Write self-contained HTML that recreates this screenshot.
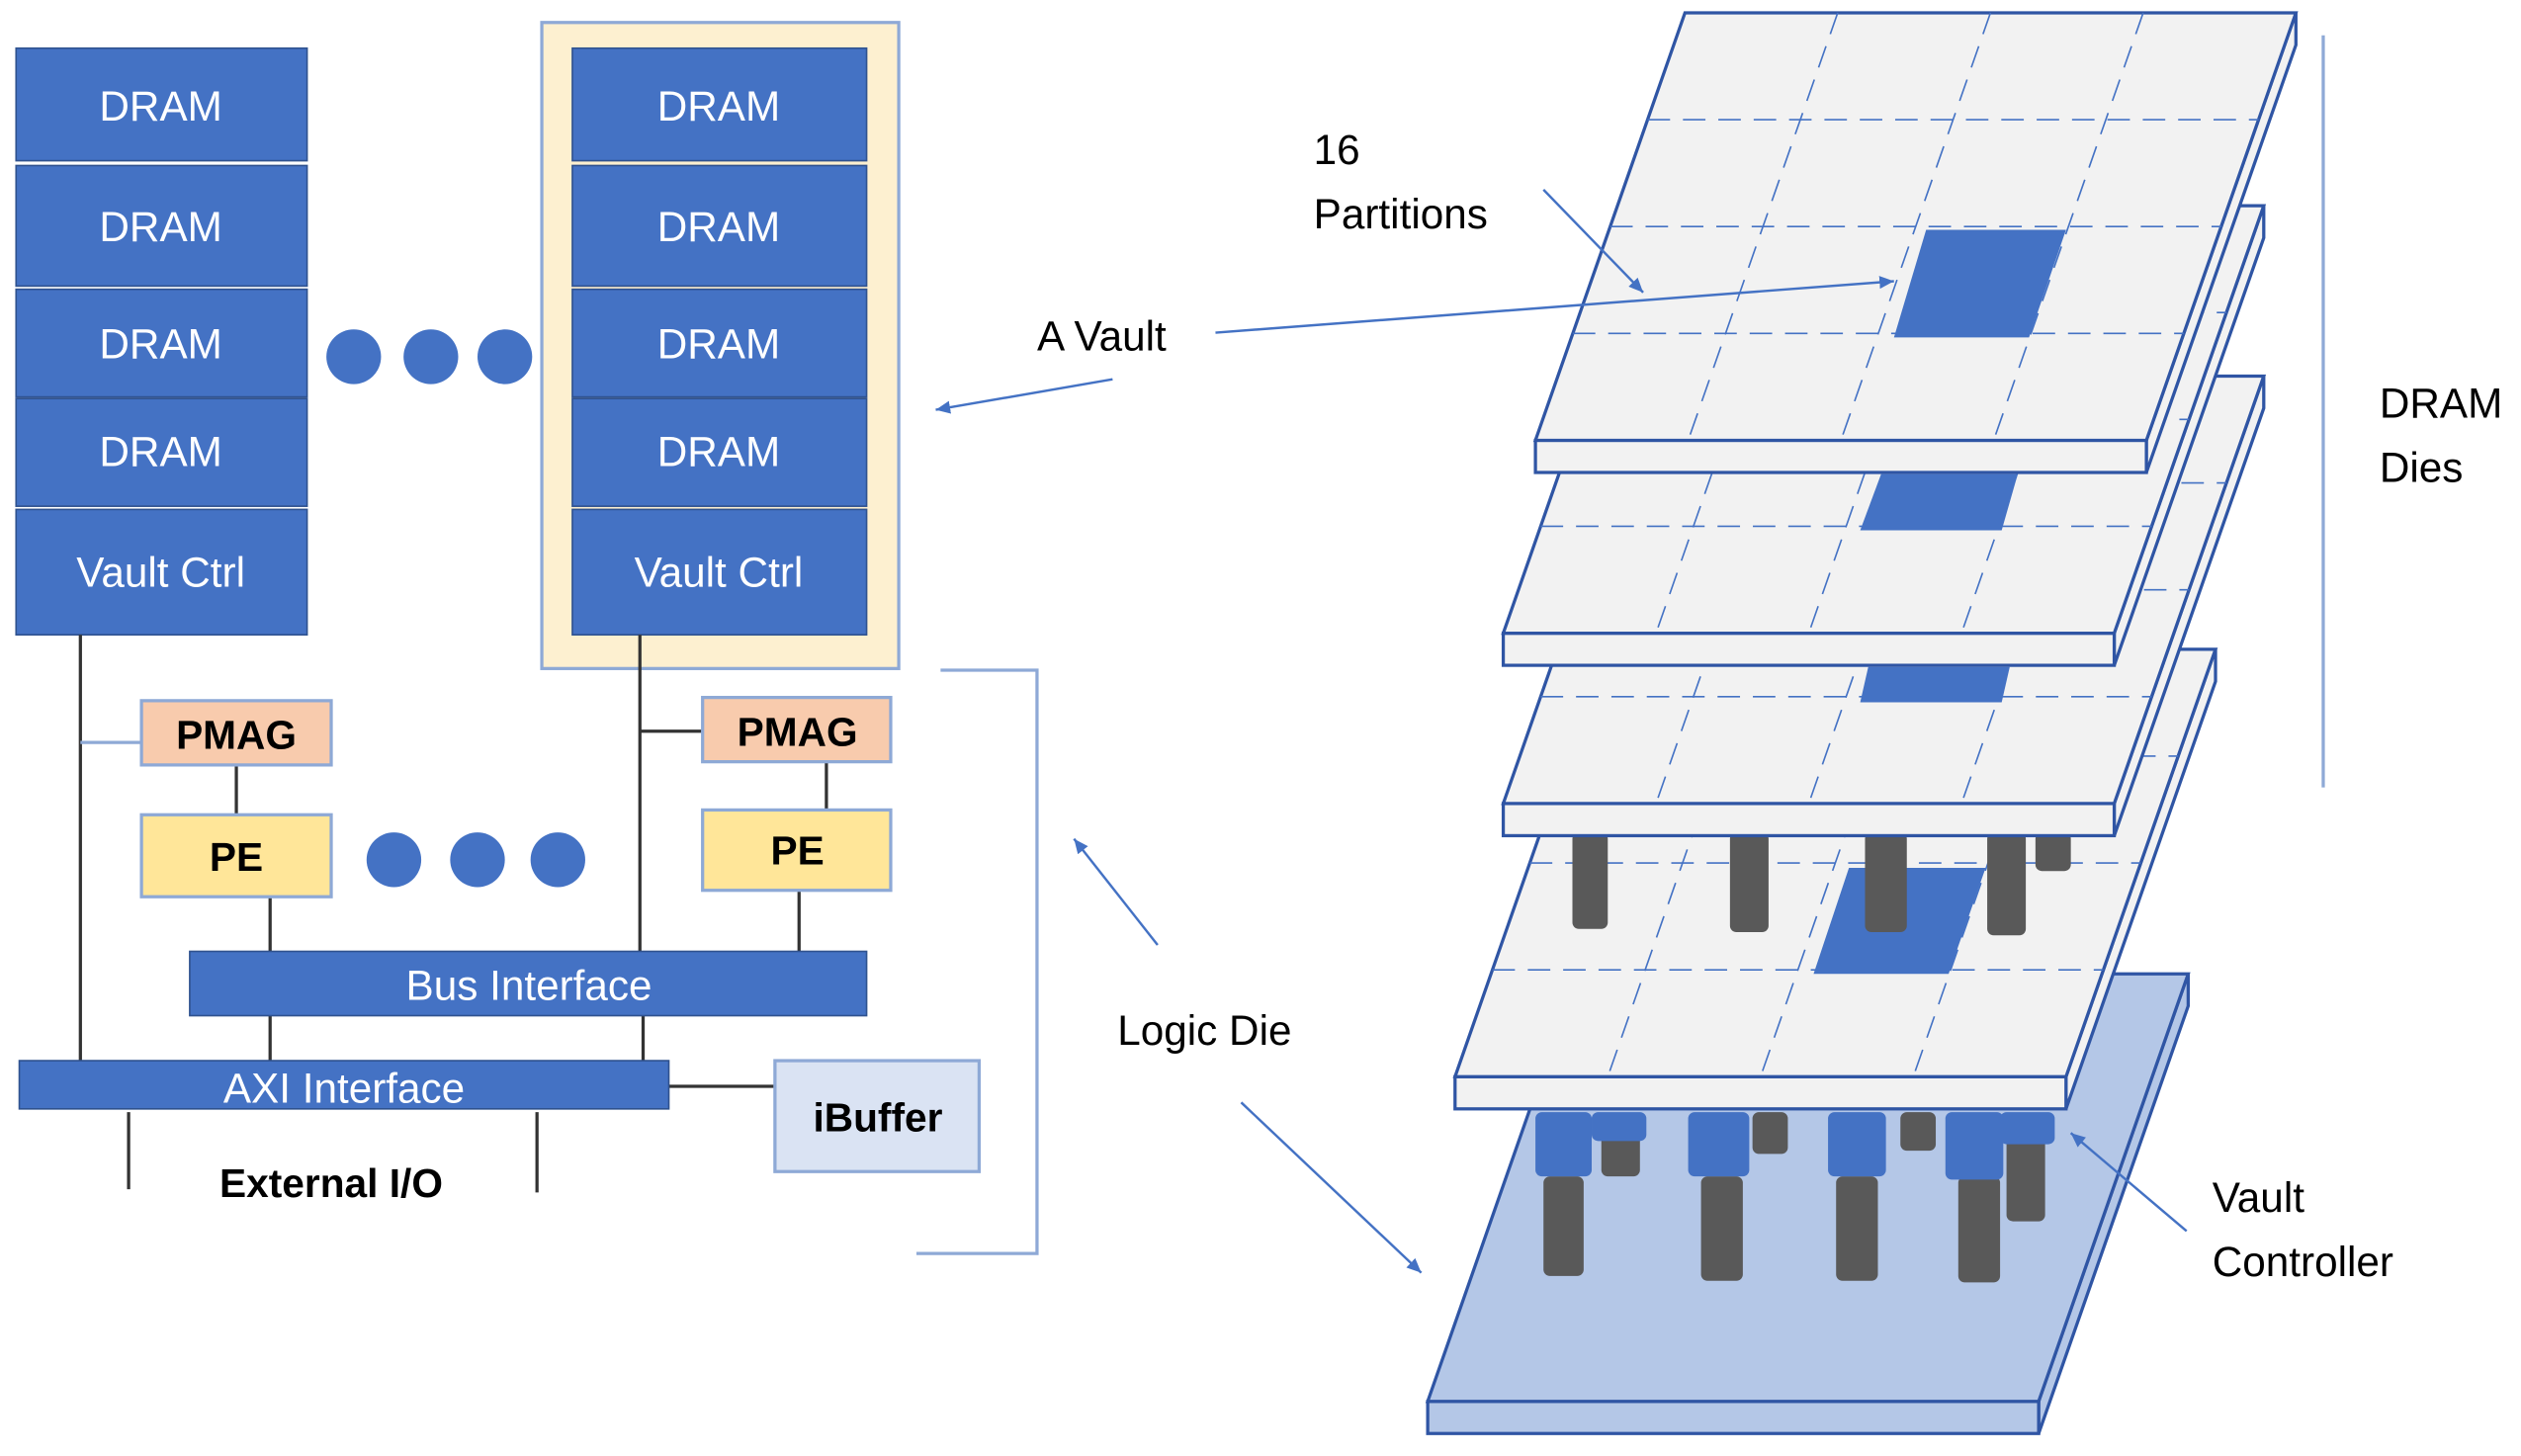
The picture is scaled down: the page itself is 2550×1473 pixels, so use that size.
<!DOCTYPE html>
<html><head><meta charset="utf-8">
<style>
html,body{margin:0;padding:0;background:#fff;width:2550px;height:1473px;overflow:hidden}
svg{display:block}
text{font-family:"Liberation Sans",sans-serif}
</style></head><body>
<svg id="s" width="2550" height="1473" viewBox="0 0 1568 906" preserveAspectRatio="none" xmlns="http://www.w3.org/2000/svg">
<defs>
<marker id="ar" markerWidth="10" markerHeight="10" refX="9" refY="5" orient="auto" markerUnits="userSpaceOnUse"><path d="M0,1 L9,5 L0,9 z" fill="#4472C4"/></marker>
</defs>
<rect width="1568" height="906" fill="#fff"/>
<g id="dies"></g>
<!-- left stack -->
<g fill="#4472C4" stroke="#2f528f" stroke-width="1">
<rect x="10" y="30" width="181" height="70"/>
<rect x="10" y="103" width="181" height="75"/>
<rect x="10" y="180" width="181" height="67"/>
<rect x="10" y="248" width="181" height="67"/>
<rect x="10" y="317" width="181" height="78"/>
</g>
<rect x="337" y="14" width="222" height="402" fill="#fdf0d0" stroke="#8ea9d6" stroke-width="2"/>
<g fill="#4472C4" stroke="#2f528f" stroke-width="1">
<rect x="356" y="30" width="183" height="70"/>
<rect x="356" y="103" width="183" height="75"/>
<rect x="356" y="180" width="183" height="67"/>
<rect x="356" y="248" width="183" height="67"/>
<rect x="356" y="317" width="183" height="78"/>
</g>
<g fill="#fff" font-size="26" text-anchor="middle">
<text x="100" y="75">DRAM</text><text x="100" y="150">DRAM</text><text x="100" y="223">DRAM</text><text x="100" y="290">DRAM</text><text x="100" y="365">Vault Ctrl</text>
<text x="447" y="75">DRAM</text><text x="447" y="150">DRAM</text><text x="447" y="223">DRAM</text><text x="447" y="290">DRAM</text><text x="447" y="365">Vault Ctrl</text>
</g>
<g fill="#4472C4">
<circle cx="220" cy="222" r="17"/><circle cx="268" cy="222" r="17"/><circle cx="314" cy="222" r="17"/>
<circle cx="245" cy="535" r="17"/><circle cx="297" cy="535" r="17"/><circle cx="347" cy="535" r="17"/>
</g>
<g stroke="#333" stroke-width="2" fill="none">
<line x1="50" y1="395" x2="50" y2="660"/>
<line x1="147" y1="476" x2="147" y2="507"/>
<line x1="168" y1="558" x2="168" y2="592"/>
<line x1="398" y1="395" x2="398" y2="592"/>
<line x1="400" y1="632" x2="400" y2="660"/>
<line x1="398" y1="455" x2="437" y2="455"/>
<line x1="514" y1="474" x2="514" y2="504"/>
<line x1="497" y1="554" x2="497" y2="592"/>
<line x1="168" y1="632" x2="168" y2="660"/>
<line x1="416" y1="676" x2="482" y2="676"/>
<line x1="80" y1="692" x2="80" y2="740"/>
<line x1="334" y1="692" x2="334" y2="742"/>
</g>
<line x1="50" y1="462" x2="88" y2="462" stroke="#8ea9d6" stroke-width="2"/>
<rect x="88" y="436" width="118" height="40" fill="#f8cbad" stroke="#8ea9d6" stroke-width="2"/>
<rect x="88" y="507" width="118" height="51" fill="#ffe699" stroke="#8ea9d6" stroke-width="2"/>
<rect x="437" y="434" width="117" height="40" fill="#f8cbad" stroke="#8ea9d6" stroke-width="2"/>
<rect x="437" y="504" width="117" height="50" fill="#ffe699" stroke="#8ea9d6" stroke-width="2"/>
<rect x="118" y="592" width="421" height="40" fill="#4472C4" stroke="#2f528f"/>
<rect x="12" y="660" width="404" height="30" fill="#4472C4" stroke="#2f528f"/>
<rect x="482" y="660" width="127" height="69" fill="#dae3f3" stroke="#8ea9d6" stroke-width="2"/>
<g font-weight="bold" font-size="25" text-anchor="middle" fill="#000">
<text x="147" y="466">PMAG</text><text x="147" y="542">PE</text>
<text x="496" y="464">PMAG</text><text x="496" y="538">PE</text>
<text x="546" y="704">iBuffer</text>
<text x="206" y="745">External I/O</text>
</g>
<g fill="#fff" font-size="26" text-anchor="middle">
<text x="329" y="622">Bus Interface</text>
<text x="214" y="686">AXI Interface</text>
</g>
<polyline points="585,417 645,417 645,780 570,780" fill="none" stroke="#8ea9d6" stroke-width="2"/>
<line x1="1445" y1="22" x2="1445" y2="490" stroke="#8ea9d6" stroke-width="2"/>
<g fill="#000" font-size="26">
<text x="645" y="218">A Vault</text>
<text x="817" y="102">16</text><text x="817" y="142">Partitions</text>
<text x="695" y="650">Logic Die</text>
<text x="1480" y="260">DRAM</text><text x="1480" y="300">Dies</text>
<text x="1376" y="754">Vault</text><text x="1376" y="794">Controller</text>
</g>
<g stroke="#4472C4" stroke-width="1.5" marker-end="url(#ar)">
<line x1="692" y1="236" x2="582" y2="255"/>
<line x1="756" y1="207" x2="1178" y2="175"/>
<line x1="960" y1="118" x2="1022" y2="182"/>
<line x1="720" y1="588" x2="668" y2="522"/>
<line x1="772" y1="686" x2="884" y2="792"/>
<line x1="1360" y1="766" x2="1288" y2="705"/>
</g>
</svg>
<script>
var NS="http://www.w3.org/2000/svg",g=document.getElementById("dies");
function el(t,a){var e=document.createElementNS(NS,t);for(var k in a)e.setAttribute(k,a[k]);g.appendChild(e);return e;}
function die(fx,fy,fill,grid,patch){
 var bx=fx+93,by=fy-266,W=380,T=20;
 el("polygon",{points:[bx+W,by,bx+W,by+T,fx+W,fy+T,fx+W,fy].join(" "),fill:fill,stroke:"#2f55a4","stroke-width":2});
 el("rect",{x:fx,y:fy,width:W,height:T,fill:fill,stroke:"#2f55a4","stroke-width":2});
 el("polygon",{points:[bx,by,bx+W,by,fx+W,fy,fx,fy].join(" "),fill:fill,stroke:"#2f55a4","stroke-width":2});
 if(grid){for(var i=1;i<4;i++){var t=i/4;
  el("line",{x1:bx-93*t,y1:by+266*t,x2:bx-93*t+W,y2:by+266*t,stroke:"#4472C4","stroke-width":1,"stroke-dasharray":"14,8"});
  el("line",{x1:bx+W*t,y1:by,x2:bx+W*t-93,y2:fy,stroke:"#4472C4","stroke-width":1,"stroke-dasharray":"14,8"});}}
 if(patch)el("polygon",{points:patch,fill:"#4472C4"});
}
function pil(x,y,w,h,c){el("rect",{x:x,y:y,width:w,height:h,rx:4,fill:c||"#595959"});}
die(888,872,"#b4c7e7",false);
pil(960,732,25,62);pil(1058,732,26,65);pil(1142,732,26,65);pil(1218,732,26,66);
pil(996,700,24,32);pil(1090,692,22,26);pil(1182,692,22,24);pil(1248,700,24,60);
pil(955,692,35,40,"#4472C4");pil(1050,692,38,40,"#4472C4");pil(1137,692,36,40,"#4472C4");pil(1210,692,36,42,"#4472C4");
pil(990,692,34,18,"#4472C4");pil(1244,692,34,20,"#4472C4");
die(905,670,"#f2f2f2",true,"1150,540 1235,540 1212,606 1128,606");
pil(978,518,22,60);pil(1076,518,24,62);pil(1160,518,26,62);pil(1236,518,24,64);pil(1266,518,22,24);
die(935,500,"#f2f2f2",true,"1162,415 1250,415 1245,437 1157,437");
die(935,394,"#f2f2f2",true,"1170,295 1255,295 1245,330 1157,330");
die(955,274,"#f2f2f2",true,"1198,143 1285,143 1262,210 1178,210");
</script>
</body></html>
